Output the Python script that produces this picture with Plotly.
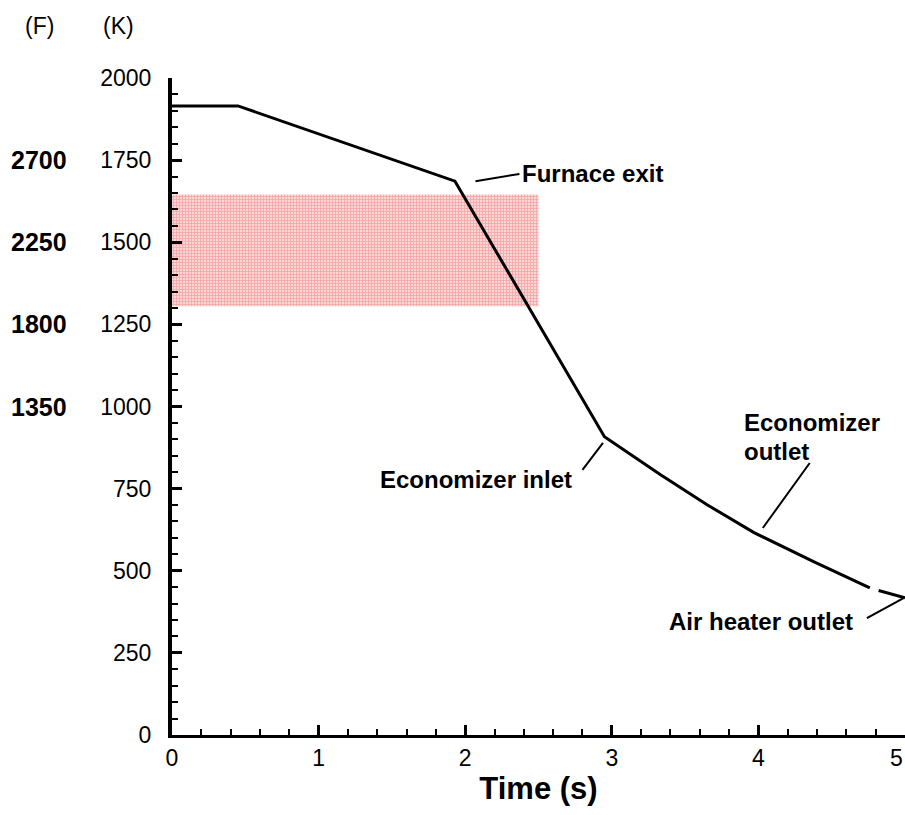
import plotly.graph_objects as go

# Flue-gas temperature history through the boiler
time_s = [0, 0.45, 1.93, 2.95, 3.33, 3.65, 3.97, 4.38, 4.76, None, 4.82, 5.0]
temp_k = [1915, 1915, 1686, 908, 793, 701, 616, 527, 448, None, 440, 418]

# Shaded temperature window
band_t = [0, 2.5]
band_k = [1305, 1645]

# Kelvin axis ticks and matching Fahrenheit labels
k_ticks = [0, 250, 500, 750, 1000, 1250, 1500, 1750, 2000]
f_at_k = [1750, 1500, 1250, 1000]
f_labels = ["2700", "2250", "1800", "1350"]

x_ticks = [0, 1, 2, 3, 4, 5]

FONT = "Arial, Liberation Sans, sans-serif"

fig = go.Figure()

# shaded band
fig.add_trace(go.Scatter(
    x=[band_t[0], band_t[1], band_t[1], band_t[0], band_t[0]],
    y=[band_k[0], band_k[0], band_k[1], band_k[1], band_k[0]],
    mode="lines", fill="toself", line=dict(width=0),
    fillcolor="rgba(247,180,180,1)",
    fillpattern=dict(shape="+", fgcolor="rgba(240,120,120,1)",
                     bgcolor="rgba(252,215,215,1)", size=3, solidity=0.5),
    hoverinfo="skip", showlegend=False,
))

# temperature curve
fig.add_trace(go.Scatter(
    x=time_s, y=temp_k, mode="lines",
    line=dict(color="black", width=3),
    connectgaps=False, showlegend=False,
))

ann_font = dict(family=FONT, size=24, color="black")

annotations = [
    dict(x=2.374, y=1709, text="<b>Furnace exit</b>", xanchor="left", yanchor="middle"),
    dict(x=2.74, y=779, text="<b>Economizer inlet</b>", xanchor="right", yanchor="middle"),
    dict(x=3.89, y=950, text="<b>Economizer</b>", xanchor="left", yanchor="middle"),
    dict(x=3.89, y=864, text="<b>outlet</b>", xanchor="left", yanchor="middle"),
    dict(x=4.66, y=347, text="<b>Air heater outlet</b>", xanchor="right", yanchor="middle"),
]
for a in annotations:
    fig.add_annotation(xref="x", yref="y", showarrow=False, font=ann_font, **a)

# leader lines
leaders = [
    (2.07, 1686, 2.37, 1708),
    (2.80, 807, 2.94, 889),
    (4.35, 828, 4.03, 630),
    (4.74, 356, 4.99, 417),
]
for x0, y0, x1, y1 in leaders:
    fig.add_shape(type="line", xref="x", yref="y", x0=x0, y0=y0, x1=x1, y1=y1,
                  line=dict(color="black", width=2))

# Fahrenheit labels
for k, f in zip(f_at_k, f_labels):
    fig.add_annotation(xref="paper", yref="y", x=-0.181, y=k, text=f"<b>{f}</b>",
                       showarrow=False, xanchor="center", yanchor="middle",
                       font=dict(family=FONT, size=25, color="black"))

fig.add_annotation(xref="paper", yref="paper", x=-0.181, y=1.079, text="(F)",
                   showarrow=False, xanchor="center", yanchor="middle",
                   font=dict(family=FONT, size=23, color="black"))
fig.add_annotation(xref="paper", yref="paper", x=-0.073, y=1.079, text="(K)",
                   showarrow=False, xanchor="center", yanchor="middle",
                   font=dict(family=FONT, size=23, color="black"))

# the last time label sits at the page edge, so it is right-aligned to stay in view
x_ticktext = [str(v) for v in x_ticks[:-1]] + [""]
fig.add_annotation(xref="x", yref="paper", x=x_ticks[-1], y=0, yshift=-8,
                   text=str(x_ticks[-1]), showarrow=False,
                   xanchor="right", yanchor="top",
                   font=dict(family=FONT, size=23, color="black"))

fig.update_xaxes(
    range=[0, 5], tickvals=x_ticks, ticktext=x_ticktext,
    ticks="inside", ticklen=10, tickwidth=3, tickcolor="black",
    minor=dict(dtick=0.2, ticks="inside", ticklen=6, tickwidth=1.5, tickcolor="black"),
    showline=True, linewidth=3, linecolor="black",
    showgrid=False, zeroline=False,
    automargin=False,
    tickfont=dict(family=FONT, size=23, color="black"),
    title=dict(text="<b>Time (s)</b>", font=dict(family=FONT, size=31, color="black"), standoff=8),
)
fig.update_yaxes(
    range=[0, 2000], tickvals=k_ticks, ticktext=[str(v) for v in k_ticks],
    ticks="inside", ticklen=10, tickwidth=3, tickcolor="black",
    minor=dict(dtick=50, ticks="inside", ticklen=6, tickwidth=1.5, tickcolor="black"),
    showline=True, linewidth=4, linecolor="black",
    showgrid=False, zeroline=False,
    automargin=False,
    tickfont=dict(family=FONT, size=23, color="black"),
    ticklabelstandoff=12,
)

fig.update_layout(
    width=905, height=815,
    margin=dict(l=172, r=0, t=78, b=80, autoexpand=False),
    plot_bgcolor="white", paper_bgcolor="white",
    showlegend=False,
)

fig.write_html("out.html")
